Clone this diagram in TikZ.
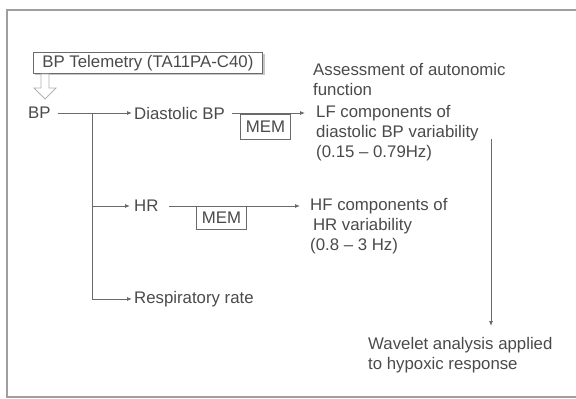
\documentclass[tikz,border=0pt]{standalone}
\usepackage{fontspec}
\setmainfont{Liberation Sans}
\usetikzlibrary{arrows.meta}
\definecolor{txt}{HTML}{4A4A4A}
\definecolor{ln}{HTML}{6A6A6A}
\begin{document}
\begin{tikzpicture}[x=1pt,y=-1pt,
  lbl/.style={inner sep=0pt, text=txt, font=\fontsize{16.8}{20}\selectfont, align=left},
  conn/.style={draw=ln, line width=0.8pt},
  arr/.style={conn, -{Latex[length=5pt,width=4pt]}},
  membox/.style={draw=ln, line width=0.8pt, fill=white, minimum width=50pt, minimum height=25pt, inner sep=0pt, text=txt, font=\fontsize{16.8}{20}\selectfont}]
\useasboundingbox (0,0) rectangle (576,399);
% outer frame (right side lies outside the picture)
\draw[draw=gray!75, line width=1.5pt] (640,10) -- (7,10) -- (7,397) -- (640,397);

% telemetry box with shadow
\fill[gray!45] (35,54) rectangle (264.5,75);
\node[lbl, draw=ln, fill=white, line width=0.8pt, anchor=north west, minimum width=229pt, minimum height=21pt, inner xsep=5pt] (tel) at (33,52) {BP Telemetry (TA11PA-C40)};

% hollow down arrow
\draw[draw=gray!60, fill=white, line width=0.8pt] (41,74) -- (49,74) -- (49,88) -- (56,88) -- (45,99) -- (34,88) -- (41,88) -- cycle;

% left column
\node[lbl, anchor=west] (bp) at (28,113) {BP};
\node[lbl, anchor=west] (dbp) at (134,113) {Diastolic BP};
\node[lbl, anchor=west] (hr) at (134,206) {HR};
\node[lbl, anchor=west] (rr) at (134,299) {Respiratory rate};

\coordinate (jbp) at (92,113);
\draw[conn] (bp.east) ++(7,0) coordinate (bpe) -- (jbp);
\draw[arr] (jbp) -- ([xshift=-2pt]dbp.west);
\draw[conn] (jbp) -- (92,299) coordinate (jrr);
\draw[arr] (92,206) coordinate (jhr) -- ([xshift=-4pt]hr.west);
\draw[arr] (jrr) -- ([xshift=-2pt]rr.west);

% MEM boxes
\node[membox, anchor=north west] (mem1) at (240,114) {MEM};
\node[membox, anchor=north west, minimum width=50pt, minimum height=23pt] (mem2) at (196,206) {MEM};

% right texts
\node[lbl, anchor=west] (ass) at (313,79.5) {Assessment of autonomic\\function};
\node[lbl, anchor=west] (lf) at (316,133) {LF components of\\diastolic BP variability\\(0.15 -- 0.79Hz)};
\node[lbl, anchor=west] (hf) at (310,226) {HF components of\\\,HR variability\\(0.8 -- 3 Hz)};
\node[lbl, anchor=west] (wav) at (368,355) {Wavelet analysis applied\\to hypoxic response};

% MEM connectors
\draw[arr] (232,113) coordinate (m1s) -- (305,113) coordinate (m1e);
\draw[arr] ([xshift=10pt]hr.east) coordinate (m2s) -- (300,206) coordinate (m2e);

% right vertical
\draw[arr] (491,139) coordinate (vtop) -- (491,326) coordinate (vbot);
\end{tikzpicture}
\end{document}
